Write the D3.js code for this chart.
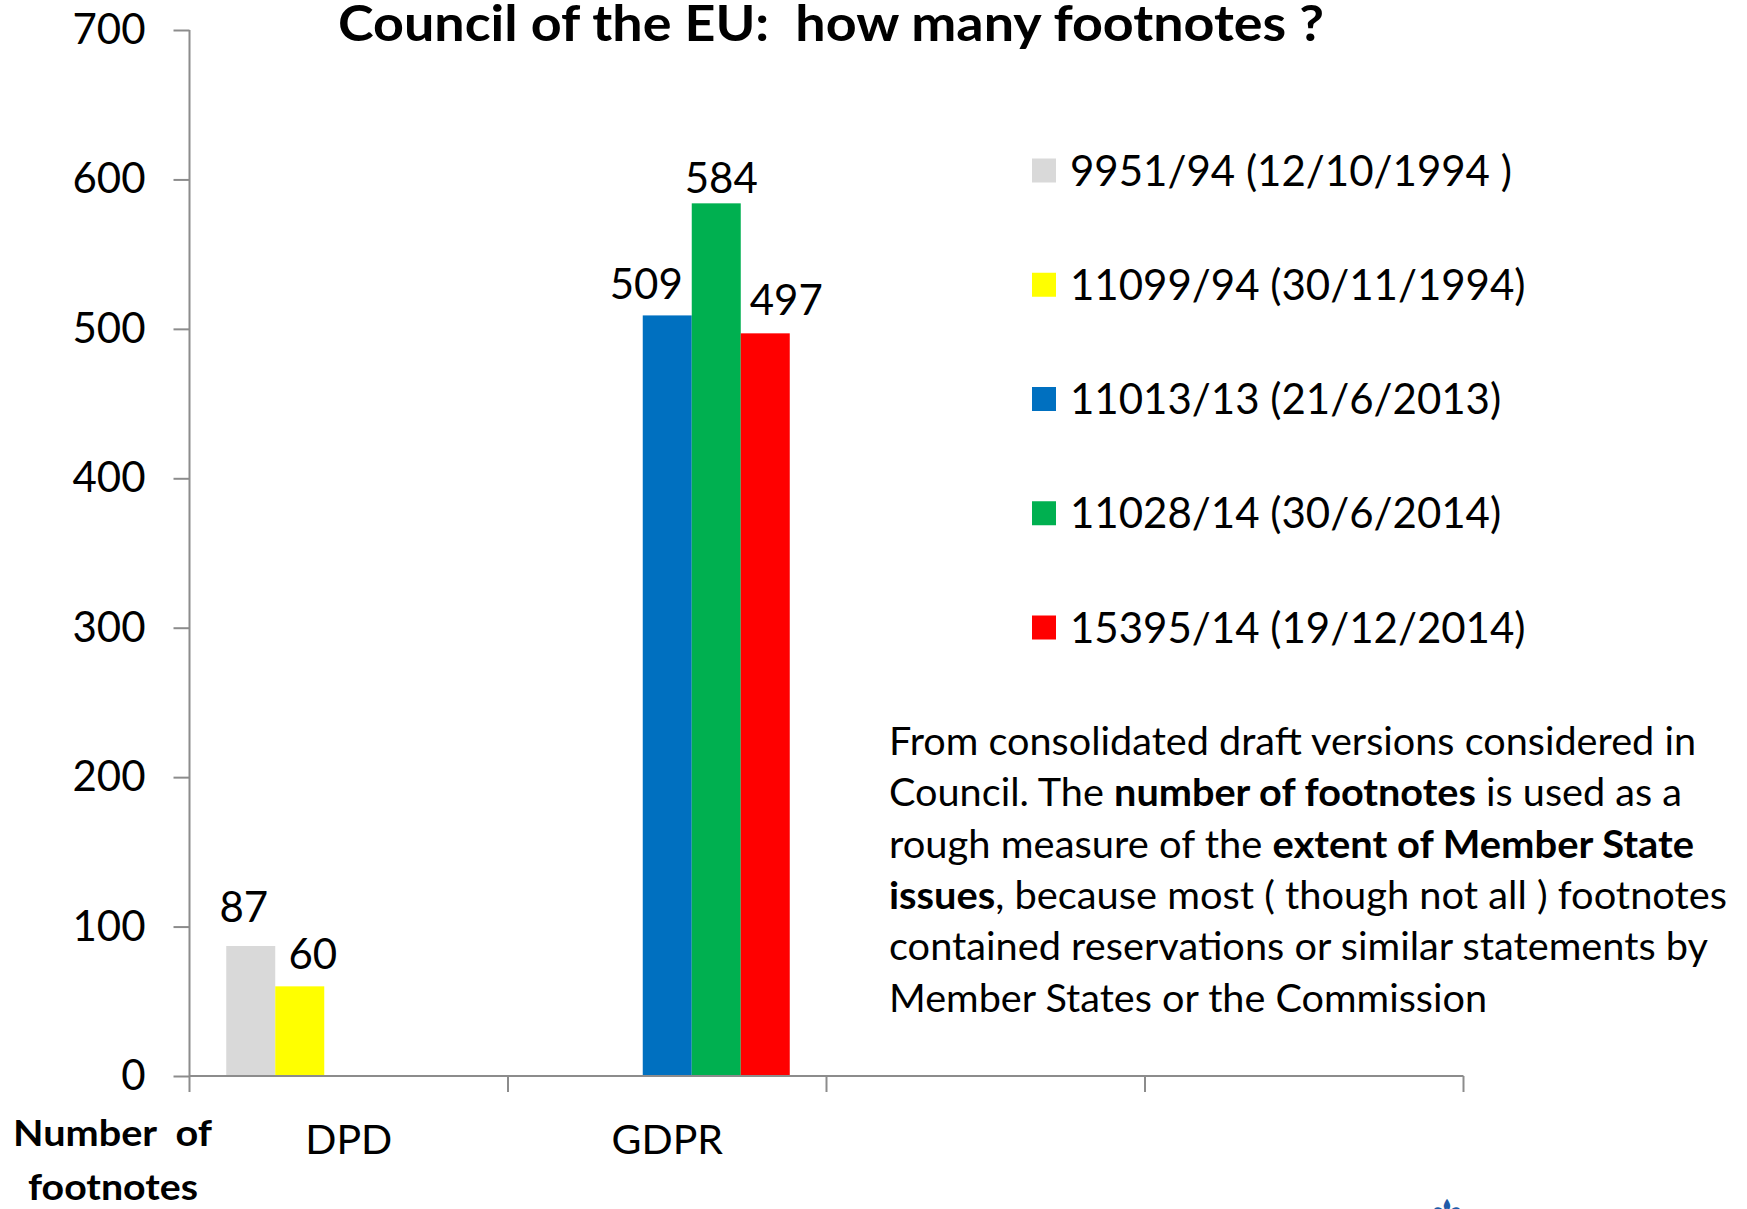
<!DOCTYPE html>
<html>
<head>
<meta charset="utf-8">
<script src="https://cdn.jsdelivr.net/npm/d3@7"></script>
<style>
  html, body { margin: 0; padding: 0; background: #ffffff; overflow: hidden; }
  svg { display: block; }
  text { font-family: Lato, "Open Sans", sans-serif; fill: #000; }
</style>
</head>
<body>
<svg id="chart" width="1747" height="1209"></svg>
<script>
// ---------- DATA ----------
const categories = ["DPD", "GDPR", "", ""];
const seriesNames = [
  "9951/94 (12/10/1994 )",
  "11099/94 (30/11/1994)",
  "11013/13 (21/6/2013)",
  "11028/14 (30/6/2014)",
  "15395/14 (19/12/2014)"
];
const series9951  = [87, null, null, null];
const series11099 = [60, null, null, null];
const series11013 = [null, 509, null, null];
const series11028 = [null, 584, null, null];
const series15395 = [null, 497, null, null];
const yTicks = [0, 100, 200, 300, 400, 500, 600, 700];
const titleText = "Council of the EU:  how many footnotes ?";
const noteLines = [
  [["From consolidated draft versions considered in", false]],
  [["Council. The ", false], ["number of footnotes", true], [" is used as a", false]],
  [["rough measure of the ", false], ["extent of Member State", true]],
  [["issues", true], [", because most ( though not all ) footnotes", false]],
  [["contained reservations or similar statements by", false]],
  [["Member States or the Commission", false]]
];
const axisTitleLines = ["Number  of", "footnotes"];

// ---------- STYLE ----------
const seriesColors = ["#d9d9d9", "#ffff00", "#0070c0", "#00b050", "#ff0000"];
const axisColor = "#8c8c8c";
const allSeries = [series9951, series11099, series11013, series11028, series15395];

const svg = d3.select("#chart");

// scales
const x0 = d3.scaleBand().domain(d3.range(categories.length)).range([189.5, 1463.5]).padding(0);
const x1 = d3.scaleBand().domain(d3.range(seriesNames.length)).range([0, x0.bandwidth()])
  .paddingInner(0).paddingOuter(0.75);
const y = d3.scaleLinear().domain([0, 700]).range([1076, 30]);

// bars
const barData = [];
allSeries.forEach((arr, si) => arr.forEach((v, ci) => {
  if (v !== null) barData.push({ si, ci, v });
}));

svg.append("g").selectAll("rect").data(barData).join("rect")
  .attr("x", d => x0(d.ci) + x1(d.si))
  .attr("y", d => y(d.v))
  .attr("width", x1.bandwidth())
  .attr("height", d => y(0) - y(d.v))
  .attr("fill", d => seriesColors[d.si]);

// y axis
const yAxis = svg.append("g")
  .attr("transform", "translate(189.5,0)")
  .call(d3.axisLeft(y).tickValues(yTicks).tickSize(16).tickPadding(28).tickSizeOuter(0));
yAxis.select(".domain").attr("stroke", axisColor).attr("stroke-width", 2)
  .attr("d", `M0,${y(700)}V${y(0) + 16}`);
yAxis.selectAll(".tick line").attr("stroke", axisColor).attr("stroke-width", 2);
yAxis.selectAll(".tick text").style("font-size", "42px").attr("fill", "#000")
  .style("font-family", "Lato");

// x axis
const xAxis = svg.append("g")
  .attr("transform", `translate(0,${y(0)})`)
  .call(d3.axisBottom(x0).tickSize(0).tickPadding(49).tickFormat(i => categories[i]));
xAxis.select(".domain").attr("stroke", axisColor).attr("stroke-width", 2)
  .attr("d", `M${x0.range()[0]},0H${x0.range()[1]}`);
xAxis.selectAll(".tick text").style("font-size", "41px").attr("fill", "#000")
  .style("font-family", "Lato").attr("dy", "0.71em");
const boundaries = categories.map((c, i) => x0(i) + x0.bandwidth());
xAxis.selectAll("line.bnd").data(boundaries).join("line").attr("class", "bnd")
  .attr("x1", d => d).attr("x2", d => d).attr("y1", 0).attr("y2", 16)
  .attr("stroke", axisColor).attr("stroke-width", 2);

// data labels (manual nudges as in the original chart)
const labelNudge = [[-7, -8], [13, -1], [-21, 0], [5, 6], [21, -2]];
svg.append("g").selectAll("text").data(barData).join("text")
  .attr("x", d => x0(d.ci) + x1(d.si) + x1.bandwidth() / 2 + labelNudge[d.si][0])
  .attr("y", d => y(d.v) - 16 + labelNudge[d.si][1])
  .attr("text-anchor", "middle")
  .style("font-size", "42px")
  .text(d => d.v);

// title
svg.append("text")
  .attr("x", 338).attr("y", 41)
  .style("font-size", "49px").style("font-weight", "bold").style("white-space", "pre")
  .attr("textLength", 986).attr("lengthAdjust", "spacingAndGlyphs")
  .text(titleText);

// legend
const legY = d3.scaleLinear().domain([0, 4]).range([170.5, 627.5]);
const leg = svg.append("g").selectAll("g").data(seriesNames).join("g")
  .attr("transform", (d, i) => `translate(1032,${legY(i)})`);
leg.append("rect").attr("x", 0).attr("y", -12).attr("width", 24).attr("height", 24)
  .attr("fill", (d, i) => seriesColors[i]);
leg.append("text").attr("x", 38).attr("y", 0).attr("dy", "0.36em")
  .style("font-size", "42px").style("white-space", "pre").text(d => d);

// note paragraph
const noteWidths = [807, 793, 805, 838, 819, 598];
const note = svg.append("g");
noteLines.forEach((segs, i) => {
  const t = note.append("text").attr("x", 889).attr("y", 755 + i * 51.3)
    .style("font-size", "38px").style("white-space", "pre")
    .attr("textLength", noteWidths[i]).attr("lengthAdjust", "spacingAndGlyphs");
  segs.forEach(([s, b]) => t.append("tspan").style("font-weight", b ? "bold" : "normal").text(s));
});

// axis title bottom-left
svg.append("text").attr("x", 13).attr("y", 1146)
  .style("font-size", "37px").style("font-weight", "bold").style("white-space", "pre")
  .attr("textLength", 199).attr("lengthAdjust", "spacingAndGlyphs")
  .text(axisTitleLines[0]);
svg.append("text").attr("x", 28).attr("y", 1200)
  .style("font-size", "37px").style("font-weight", "bold")
  .attr("textLength", 170).attr("lengthAdjust", "spacingAndGlyphs")
  .text(axisTitleLines[1]);

// partial emblem at bottom
svg.append("text").attr("x", 1447).attr("y", 1228).attr("text-anchor", "middle")
  .style("font-family", "DejaVu Sans").style("font-size", "40px")
  .style("fill", "#1f5ba8").text("\u269C");
</script>
</body>
</html>
